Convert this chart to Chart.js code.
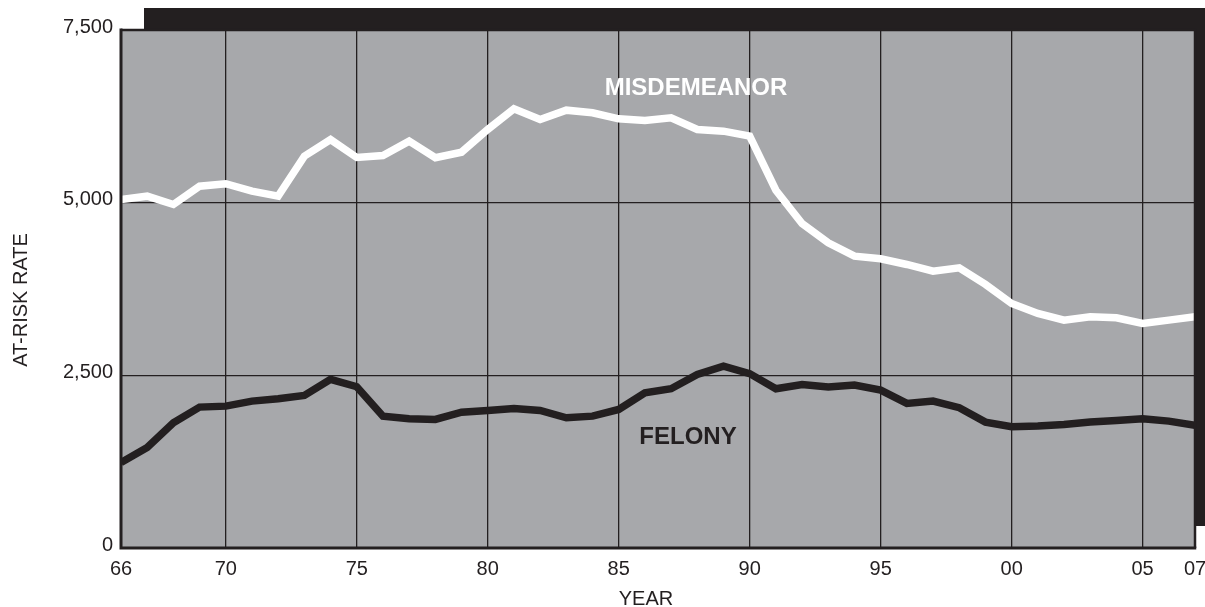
<!DOCTYPE html>
<html>
<head>
<meta charset="utf-8">
<script src="https://cdn.jsdelivr.net/npm/chart.js@4/dist/chart.umd.min.js"></script>
<style>
  html, body { margin: 0; padding: 0; background: #ffffff; }
  #wrap { width: 1205px; height: 607px; }
</style>
</head>
<body>
<div id="wrap"><canvas id="c" width="1205" height="607"></canvas></div>
<script>
// ---- data ----
const years = [1966,1967,1968,1969,1970,1971,1972,1973,1974,1975,1976,1977,1978,1979,1980,1981,1982,1983,1984,1985,1986,1987,1988,1989,1990,1991,1992,1993,1994,1995,1996,1997,1998,1999,2000,2001,2002,2003,2004,2005,2006,2007];
const misdemeanor = [5046,5094,4974,5239,5274,5167,5094,5673,5913,5654,5683,5890,5650,5731,6060,6359,6204,6339,6301,6214,6190,6229,6060,6035,5963,5180,4699,4420,4226,4188,4105,4008,4057,3816,3541,3396,3299,3348,3333,3251,3299,3348];
const felony = [1237,1454,1814,2040,2054,2127,2161,2209,2441,2335,1909,1870,1861,1967,1992,2021,1992,1886,1909,2006,2248,2306,2513,2633,2525,2306,2368,2330,2359,2286,2093,2127,2031,1823,1756,1765,1789,1823,1847,1872,1837,1775];
const xTickYears = [1966,1970,1975,1980,1985,1990,1995,2000,2005,2007];
const xTickLabels = ["66","70","75","80","85","90","95","00","05","07"];
const yTickValues = [0,2500,5000,7500];
const yTickLabels = ["0","2,500","5,000","7,500"];
const seriesNames = ["MISDEMEANOR","FELONY"];
const axisTitles = { x: "YEAR", y: "AT-RISK RATE" };

const DARK = '#231f20';
const GRAY = '#a7a8ab';
const FONT = '"Liberation Sans", Arial, Helvetica, sans-serif';

const toPoints = arr => arr.map((v, i) => ({ x: years[i], y: v }));

const decor = {
  id: 'decor',
  beforeDraw(chart) {
    const { ctx, chartArea: a } = chart;
    ctx.save();
    ctx.fillStyle = '#ffffff';
    ctx.fillRect(0, 0, chart.width, chart.height);
    // offset shadow box
    ctx.fillStyle = DARK;
    ctx.fillRect(a.left + 23, a.top - 22, (a.right - a.left), (a.bottom - a.top));
    // plot background
    ctx.fillStyle = GRAY;
    ctx.fillRect(a.left, a.top, a.right - a.left, a.bottom - a.top);
    ctx.restore();
  },
  afterDatasetsDraw(chart) {
    const { ctx, chartArea: a } = chart;
    ctx.save();
    ctx.strokeStyle = DARK;
    ctx.lineWidth = 2.5;
    ctx.beginPath();
    ctx.moveTo(a.left, a.top);
    ctx.lineTo(a.right, a.top);
    ctx.lineTo(a.right, a.bottom);
    ctx.stroke();
    ctx.lineWidth = 3;
    ctx.beginPath();
    ctx.moveTo(a.left, a.top - 1.5);
    ctx.lineTo(a.left, a.bottom);
    ctx.lineTo(a.right + 1.25, a.bottom);
    ctx.stroke();
    // series labels
    ctx.font = 'bold 24px ' + FONT;
    ctx.textAlign = 'center';
    ctx.textBaseline = 'middle';
    ctx.fillStyle = '#ffffff';
    ctx.fillText(seriesNames[0], 696, 88);
    ctx.fillStyle = DARK;
    ctx.fillText(seriesNames[1], 688, 437);
    // axis titles
    ctx.font = '20px ' + FONT;
    ctx.fillStyle = DARK;
    ctx.fillText(axisTitles.x, 646, 599);
    ctx.translate(21, 300);
    ctx.rotate(-Math.PI / 2);
    ctx.fillText(axisTitles.y, 0, 0);
    ctx.restore();
  }
};

new Chart(document.getElementById('c'), {
  type: 'line',
  data: {
    datasets: [
      { label: seriesNames[0], data: toPoints(misdemeanor), borderColor: '#ffffff', borderWidth: 7.5,
        pointRadius: 0, tension: 0, borderJoinStyle: 'miter', borderCapStyle: 'butt', clip: 0 },
      { label: seriesNames[1], data: toPoints(felony), borderColor: DARK, borderWidth: 7.5,
        pointRadius: 0, tension: 0, borderJoinStyle: 'miter', borderCapStyle: 'butt', clip: 0 }
    ]
  },
  options: {
    responsive: false,
    animation: false,
    events: [],
    layout: { padding: { left: 0, top: 30, right: 10, bottom: 0 } },
    plugins: { legend: { display: false }, tooltip: { enabled: false }, title: { display: false } },
    scales: {
      x: {
        type: 'linear', min: 1966, max: 2007,
        afterBuildTicks: s => { s.ticks = xTickYears.map(v => ({ value: v })); },
        afterFit: s => { s.height = 59; s.paddingLeft = 0; s.paddingRight = 0; },
        grid: { color: DARK, lineWidth: 1.3, drawTicks: false },
        border: { display: false },
        ticks: {
          color: DARK, font: { family: FONT, size: 20 }, padding: 9, maxRotation: 0, autoSkip: false,
          callback: v => { const i = xTickYears.indexOf(v); return i >= 0 ? xTickLabels[i] : ''; }
        }
      },
      y: {
        min: 0, max: 7500,
        afterBuildTicks: s => { s.ticks = yTickValues.map(v => ({ value: v })); },
        afterFit: s => { s.width = 121; s.paddingTop = 0; s.paddingBottom = 0; },
        grid: { color: DARK, lineWidth: 1.3, drawTicks: false },
        border: { display: false },
        ticks: {
          color: DARK, font: { family: FONT, size: 20 }, padding: 8, labelOffset: -3,
          callback: v => { const i = yTickValues.indexOf(v); return i >= 0 ? yTickLabels[i] : ''; }
        }
      }
    }
  },
  plugins: [decor]
});
</script>
</body>
</html>
